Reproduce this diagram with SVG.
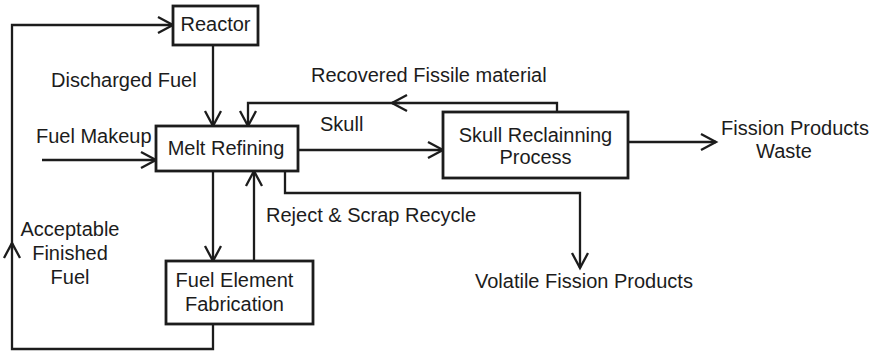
<svg xmlns="http://www.w3.org/2000/svg" width="875" height="354" viewBox="0 0 875 354">
  <style>
    .box { fill: #fff; stroke: #1c1c1c; stroke-width: 2.8; }
    .wire { fill: none; stroke: #1c1c1c; stroke-width: 2.3; }
    text { font-family: "Liberation Sans", Arial, sans-serif; font-size: 20px; fill: #1c1c1c; }
  </style>
  <defs>
    <marker id="chev" markerUnits="userSpaceOnUse" markerWidth="20" markerHeight="20" viewBox="-17 -10 20 20" refX="0" refY="0" orient="auto">
      <path d="M-15,-8 L0,0 L-15,8" fill="none" stroke="#1c1c1c" stroke-width="2.3"/>
    </marker>
  </defs>

  <g id="connectors">
    <!-- Reactor to Melt Refining -->
    <path class="wire" d="M213,45 V126" marker-end="url(#chev)"/>
    <!-- Recovered fissile material back to Melt Refining -->
    <path class="wire" d="M557,112 V103 H392" marker-end="url(#chev)"/>
    <path class="wire" d="M400,103 H248 V126" marker-end="url(#chev)"/>
    <!-- Fuel makeup feed -->
    <path class="wire" d="M42,160 H156" marker-end="url(#chev)"/>
    <!-- Skull to reclaiming -->
    <path class="wire" d="M298,150 H443" marker-end="url(#chev)"/>
    <!-- Fission products waste -->
    <path class="wire" d="M628,142 H716" marker-end="url(#chev)"/>
    <!-- Volatile fission products -->
    <path class="wire" d="M285,171 V193 H580 V268" marker-end="url(#chev)"/>
    <!-- Melt Refining to fabrication -->
    <path class="wire" d="M213,171 V261" marker-end="url(#chev)"/>
    <!-- Reject & scrap recycle -->
    <path class="wire" d="M254,261 V171" marker-end="url(#chev)"/>
    <!-- Acceptable finished fuel loop back to Reactor -->
    <path class="wire" d="M213,324 V349 H12 V243" marker-end="url(#chev)"/>
    <path class="wire" d="M12,250 V25 H173" marker-end="url(#chev)"/>
  </g>

  <g id="reactor">
    <rect class="box" x="173" y="6" width="85" height="39"/>
    <text x="215.5" y="31" text-anchor="middle">Reactor</text>
  </g>

  <g id="melt-refining">
    <rect class="box" x="156" y="126" width="142" height="45"/>
    <text x="226" y="155" text-anchor="middle">Melt Refining</text>
  </g>

  <g id="skull-reclaiming">
    <rect class="box" x="443" y="112" width="185" height="66"/>
    <text x="535.5" y="142" text-anchor="middle">Skull Reclainning</text>
    <text x="535.5" y="164" text-anchor="middle">Process</text>
  </g>

  <g id="fuel-element-fabrication">
    <rect class="box" x="166" y="261" width="147" height="63"/>
    <text x="234.5" y="287" text-anchor="middle">Fuel Element</text>
    <text x="234.5" y="311" text-anchor="middle">Fabrication</text>
  </g>

  <g id="labels">
    <text x="51" y="87">Discharged Fuel</text>
    <text x="311" y="82">Recovered Fissile material</text>
    <text x="320" y="131">Skull</text>
    <text x="36" y="143">Fuel Makeup</text>
    <text x="795" y="135" text-anchor="middle">Fission Products</text>
    <text x="784" y="158" text-anchor="middle">Waste</text>
    <text x="266" y="222">Reject &amp; Scrap Recycle</text>
    <text x="475" y="288">Volatile Fission Products</text>
    <text x="70" y="236" text-anchor="middle">Acceptable</text>
    <text x="70" y="260" text-anchor="middle">Finished</text>
    <text x="70" y="284" text-anchor="middle">Fuel</text>
  </g>
</svg>
